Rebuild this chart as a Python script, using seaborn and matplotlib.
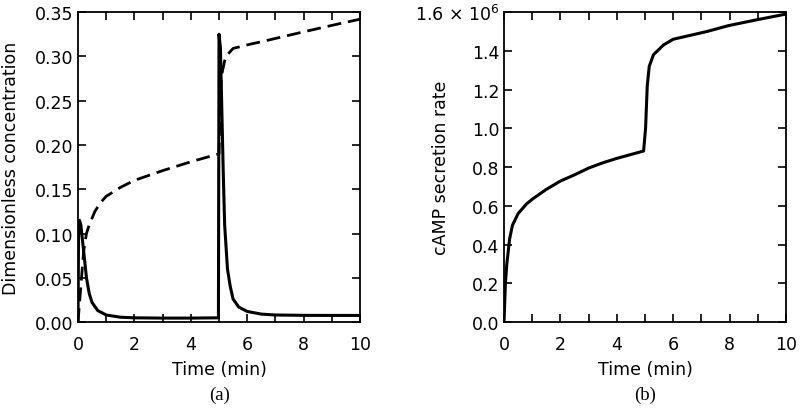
import numpy as np
import pandas as pd
import matplotlib
matplotlib.use("Agg")
import matplotlib.pyplot as plt
import seaborn as sns
from matplotlib.ticker import MultipleLocator

# Panel (a): dimensionless concentrations
t_solid = [0.0, 0.02, 0.05, 0.1, 0.15, 0.2, 0.3, 0.4, 0.5, 0.7, 1.0, 1.5, 2.0, 3.0, 4.0, 4.98,
           5.0, 5.05, 5.1, 5.15, 5.2, 5.3, 5.4, 5.5, 5.7, 6.0, 6.5, 7.0, 8.0, 9.0, 10.0]
c_solid = [0.0, 0.10, 0.115, 0.11, 0.095, 0.08, 0.05, 0.032, 0.022, 0.013, 0.008, 0.0055, 0.0048, 0.0045, 0.0045, 0.0048,
           0.325, 0.31, 0.24, 0.17, 0.11, 0.06, 0.04, 0.026, 0.017, 0.012, 0.009, 0.008, 0.0076, 0.0075, 0.0075]

t_dash = [0.0, 0.1, 0.2, 0.3, 0.4, 0.6, 0.8, 1.0, 1.5, 2.0, 3.0, 4.0, 5.0,
          5.02, 5.05, 5.1, 5.2, 5.3, 5.5, 6.0, 6.7, 7.9, 9.0, 10.0]
c_dash = [0.0, 0.04, 0.08, 0.10, 0.11, 0.125, 0.135, 0.142, 0.152, 0.16, 0.171, 0.181, 0.19,
          0.22, 0.26, 0.28, 0.295, 0.302, 0.309, 0.313, 0.318, 0.327, 0.335, 0.342]

# Panel (b): cAMP secretion rate (units of 1e6)
t_rate = [0.0, 0.05, 0.1, 0.2, 0.3, 0.5, 0.8, 1.0, 1.5, 2.0, 2.5, 3.0, 3.5, 4.0, 4.5, 4.95,
          5.02, 5.08, 5.15, 5.3, 5.65, 6.0, 6.6, 7.2, 7.95, 8.95, 10.0]
rate = [0.0, 0.2, 0.3, 0.43, 0.5, 0.56, 0.61, 0.634, 0.685, 0.728, 0.76, 0.795, 0.822, 0.845, 0.865, 0.883,
        1.0, 1.22, 1.32, 1.38, 1.43, 1.46, 1.48, 1.50, 1.53, 1.56, 1.59]

df_solid = pd.DataFrame({"t": t_solid, "c": c_solid})
df_dash = pd.DataFrame({"t": t_dash, "c": c_dash})
df_rate = pd.DataFrame({"t": t_rate, "r": rate})

sns.set_style("ticks")
plt.rcParams['font.family'] = ['DejaVu Sans']
plt.rcParams['text.color'] = 'black'
plt.rcParams['axes.labelcolor'] = 'black'
plt.rcParams['xtick.color'] = 'black'
plt.rcParams['ytick.color'] = 'black'
plt.rcParams['axes.edgecolor'] = 'black'

fig = plt.figure(figsize=(8, 4.1), dpi=100)
ax1 = fig.add_axes([0.0975, 0.212, 0.3525, 0.756])
ax2 = fig.add_axes([0.63, 0.212, 0.3525, 0.756])

sns.lineplot(data=df_solid, x="t", y="c", ax=ax1, color="black", lw=2.2)
sns.lineplot(data=df_dash, x="t", y="c", ax=ax1, color="black", lw=2, linestyle=(0, (5, 2.5)))
sns.lineplot(data=df_rate, x="t", y="r", ax=ax2, color="black", lw=2.2)

for ax in (ax1, ax2):
    ax.set_xlim(0, 10)
    ax.xaxis.set_major_locator(MultipleLocator(2))
    ax.xaxis.set_minor_locator(MultipleLocator(1))
    ax.tick_params(which="both", direction="in", top=True, right=True, labelsize=12.5, width=1.2, length=6)
    ax.tick_params(axis="x", pad=9)
    ax.set_xlabel("Time (min)", fontsize=12.5, labelpad=5)
    for s in ax.spines.values():
        s.set_linewidth(1.3)

ax1.set_ylim(0, 0.35)
ax1.set_yticks(np.arange(0, 0.351, 0.05))
ax1.set_yticklabels([f"{v:.2f}" for v in np.arange(0, 0.351, 0.05)])
ax1.set_ylabel("Dimensionless concentration", fontsize=12.5)
ax1.yaxis.set_label_coords(-0.205, 0.5)

ax2.set_ylim(0, 1.6)
ax2.set_yticks(np.arange(0, 1.61, 0.2))
labels = [f"{v:.1f}" for v in np.arange(0, 1.41, 0.2)] + ["1.6 × 10$^6$"]
ax2.set_yticklabels(labels)
ax2.set_ylabel("cAMP secretion rate", fontsize=12.5)
ax2.yaxis.set_label_coords(-0.19, 0.5)

fig.text(0.274, 0.025, "(a)", ha="center", fontsize=13.5, family="Liberation Serif")
fig.text(0.806, 0.025, "(b)", ha="center", fontsize=13.5, family="Liberation Serif")

fig.savefig("out.png", dpi=100)
